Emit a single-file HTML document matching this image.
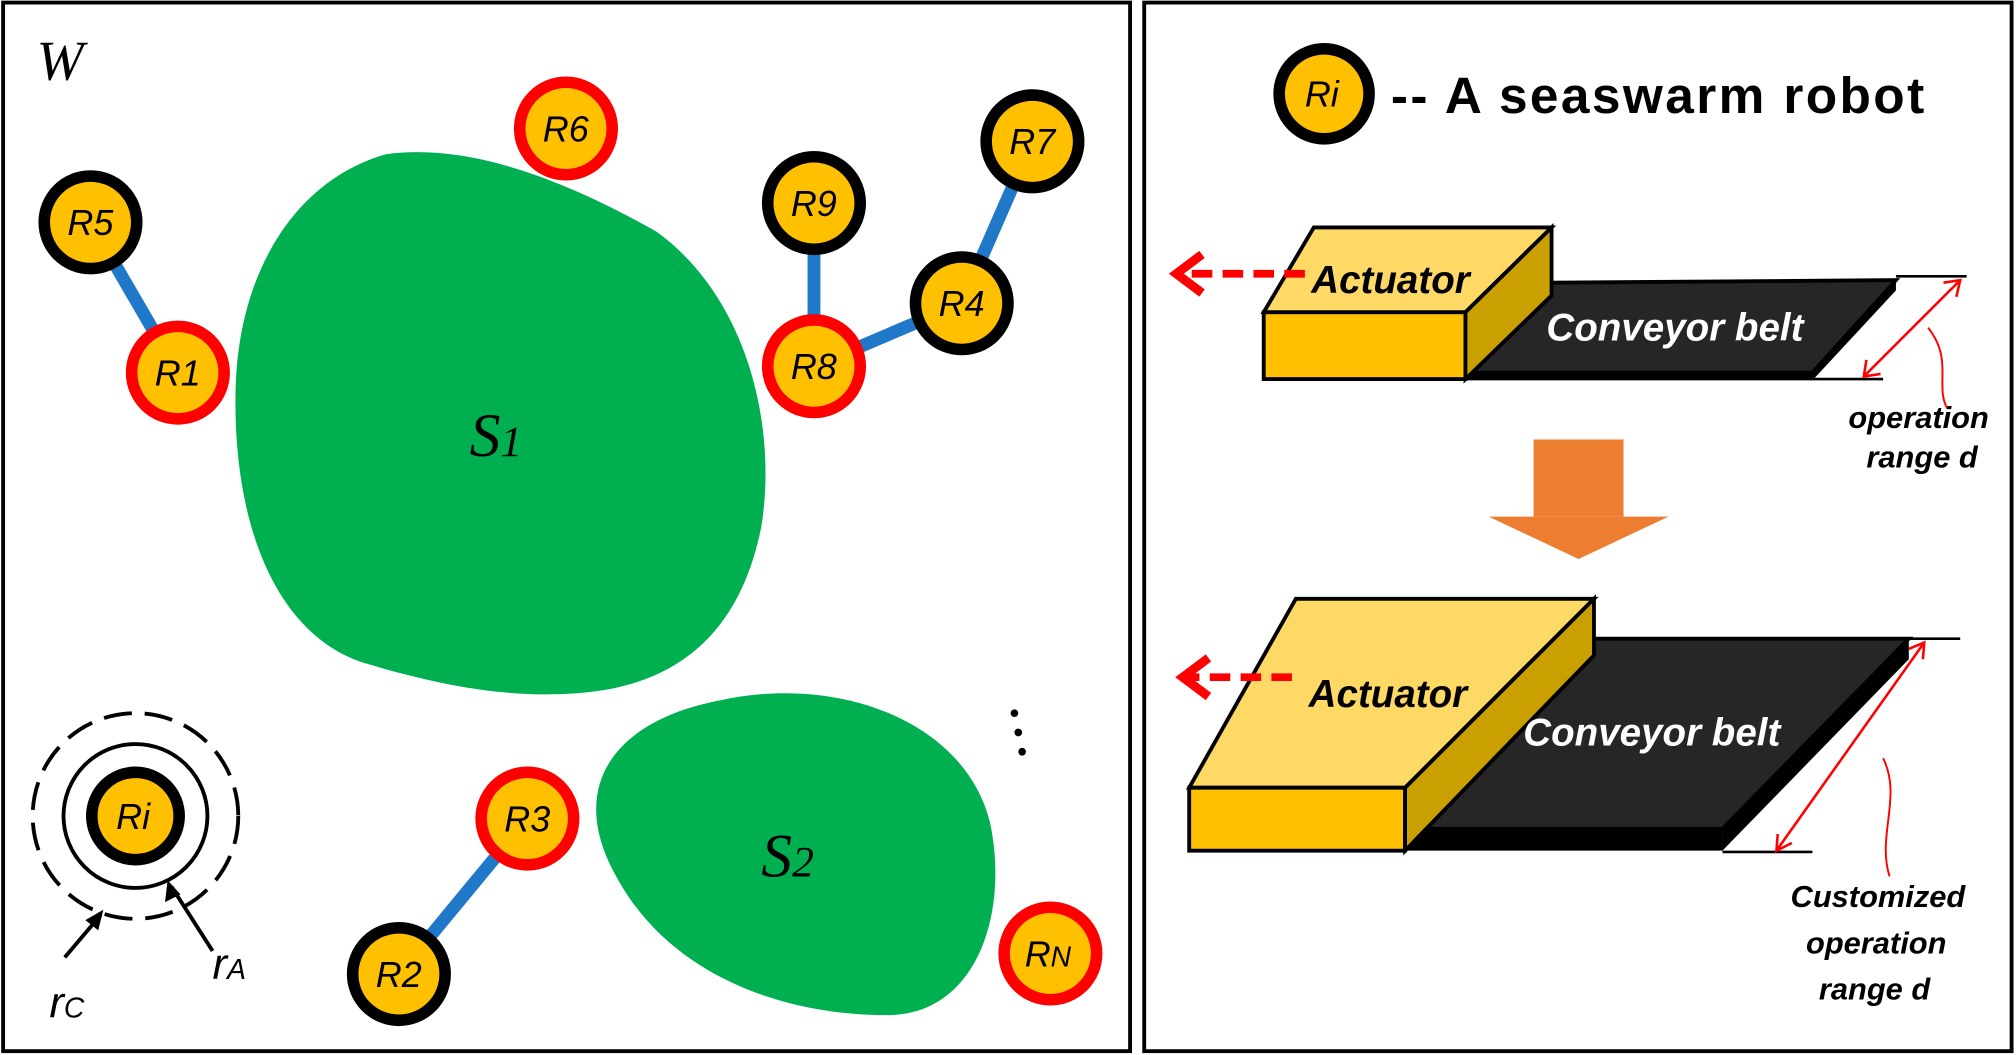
<!DOCTYPE html>
<html><head><meta charset="utf-8"><style>
html,body{margin:0;padding:0;background:#fff;}
svg{display:block;}
.rt{font-family:"Liberation Sans",sans-serif;font-style:italic;font-size:28px;fill:#000;}
.lb{font-family:"Liberation Sans",sans-serif;font-style:italic;font-weight:bold;fill:#000;}
</style></head><body>
<svg width="2016" height="1055" viewBox="0 0 1568 821">
<rect x="2" y="2" width="877" height="816" fill="#fff" stroke="#000" stroke-width="3"/>
<rect x="890" y="2" width="675" height="816" fill="#fff" stroke="#000" stroke-width="3"/>
<text x="28" y="62" font-family="Liberation Serif,serif" font-style="italic" font-size="44">W</text>
<path d="M300,120 C360,112 430,135 510,180 C580,230 605,330 592,410 C578,480 540,525 470,537 C400,548 330,530 280,515 C210,490 180,400 183,300 C186,210 230,140 300,120 Z" fill="#00B050"/>
<text x="365" y="355" font-family="Liberation Serif,serif" font-style="italic" font-size="48">S<tspan font-size="34">1</tspan></text>
<path d="M560,545 C650,525 750,560 770,640 C785,710 760,790 690,790 C610,790 520,760 478,680 C440,610 480,560 560,545 Z" fill="#00B050"/>
<text x="592" y="682" font-family="Liberation Serif,serif" font-style="italic" font-size="48">S<tspan font-size="34">2</tspan></text>
<g stroke="#1F78C8" stroke-width="10">
<line x1="70" y1="173" x2="138" y2="290"/><line x1="633" y1="158" x2="633" y2="285"/>
<line x1="633" y1="285" x2="748" y2="236"/><line x1="748" y1="236" x2="803" y2="110"/>
<line x1="410" y1="637" x2="310" y2="758"/></g>
<g>
<g><circle cx="70" cy="173" r="36" fill="#FFC000" stroke="#000" stroke-width="9"/><text class="rt" x="52" y="183">R5</text></g>
<g><circle cx="138" cy="290" r="36" fill="#FFC000" stroke="#f00" stroke-width="9"/><text class="rt" x="120" y="300">R1</text></g>
<g><circle cx="440" cy="100" r="36" fill="#FFC000" stroke="#f00" stroke-width="9"/><text class="rt" x="422" y="110">R6</text></g>
<g><circle cx="633" cy="158" r="36" fill="#FFC000" stroke="#000" stroke-width="9"/><text class="rt" x="615" y="168">R9</text></g>
<g><circle cx="803" cy="110" r="36" fill="#FFC000" stroke="#000" stroke-width="9"/><text class="rt" x="785" y="120">R7</text></g>
<g><circle cx="748" cy="236" r="36" fill="#FFC000" stroke="#000" stroke-width="9"/><text class="rt" x="730" y="246">R4</text></g>
<g><circle cx="633" cy="285" r="36" fill="#FFC000" stroke="#f00" stroke-width="9"/><text class="rt" x="615" y="295">R8</text></g>
<g><circle cx="410" cy="637" r="36" fill="#FFC000" stroke="#f00" stroke-width="9"/><text class="rt" x="392" y="647">R3</text></g>
<g><circle cx="310" cy="758" r="36" fill="#FFC000" stroke="#000" stroke-width="9"/><text class="rt" x="292" y="768">R2</text></g>
<g><circle cx="817" cy="742" r="36" fill="#FFC000" stroke="#f00" stroke-width="9"/><text class="rt" x="797" y="752">R<tspan font-size="22">N</tspan></text></g>
</g>
<g>
<circle cx="105" cy="635" r="80" fill="none" stroke="#000" stroke-width="3" stroke-dasharray="22,10"/>
<circle cx="105" cy="635" r="56" fill="none" stroke="#000" stroke-width="3"/>
<circle cx="105" cy="635" r="34" fill="#FFC000" stroke="#000" stroke-width="9"/><text class="rt" x="90" y="645">Ri</text>
<line x1="50" y1="745" x2="78" y2="712" stroke="#000" stroke-width="3"/><polygon points="80,708 66,716 76,724" fill="#000"/>
<line x1="165" y1="740" x2="133" y2="690" stroke="#000" stroke-width="3"/><polygon points="130,685 128,702 140,696" fill="#000"/>
<text x="38" y="792" font-family="Liberation Sans,sans-serif" font-style="italic" font-size="34">r<tspan font-size="22">C</tspan></text>
<text x="165" y="762" font-family="Liberation Sans,sans-serif" font-style="italic" font-size="34">r<tspan font-size="22">A</tspan></text>
</g>
<g fill="#000"><circle cx="789" cy="555" r="3"/><circle cx="792" cy="570" r="3"/><circle cx="795" cy="585" r="3"/></g>
<g><circle cx="1030" cy="73" r="35" fill="#FFC000" stroke="#000" stroke-width="9"/><text class="rt" x="1015" y="83">Ri</text>
<text x="1082" y="88" font-family="Liberation Sans,sans-serif" font-weight="bold" font-size="40" textLength="415">-- A seaswarm robot</text></g>
<g>
<polygon points="1140,290 1207,220 1475,218 1410,290" fill="#262626" stroke="#000" stroke-width="3"/>
<polygon points="1140,290 1410,290 1410,296 1140,296" fill="#000"/>
<polygon points="1410,290 1475,218 1475,226 1410,296" fill="#000"/>
<polygon points="983,243 1022,177 1207,177 1140,243" fill="#FFD966" stroke="#000" stroke-width="3"/>
<rect x="983" y="243" width="157" height="52" fill="#FFC000" stroke="#000" stroke-width="3"/>
<polygon points="1140,243 1207,177 1207,230 1140,295" fill="#C9A000" stroke="#000" stroke-width="3"/>
<text class="lb" x="1020" y="228" font-size="30">Actuator</text>
<text class="lb" x="1203" y="265" font-size="30" style="fill:#fff">Conveyor belt</text>
<line x1="1015" y1="213" x2="918" y2="213" stroke="#f00" stroke-width="6" stroke-dasharray="16,8"/>
<polyline points="935,198 915,213 935,228" fill="none" stroke="#f00" stroke-width="7"/>
<line x1="1475" y1="215" x2="1530" y2="215" stroke="#000" stroke-width="2"/><line x1="1410" y1="295" x2="1465" y2="295" stroke="#000" stroke-width="2"/>
<line x1="1525" y1="218" x2="1450" y2="293" stroke="#f00" stroke-width="2"/>
<polyline points="1512,220 1525,218 1522,231" fill="none" stroke="#f00" stroke-width="2"/><polyline points="1452,280 1450,293 1463,291" fill="none" stroke="#f00" stroke-width="2"/>
<path d="M1500,255 C1520,280 1505,300 1515,318" fill="none" stroke="#f00" stroke-width="1.5"/>
<text class="lb" x="1438" y="333" font-size="24">operation</text><text class="lb" x="1452" y="364" font-size="24">range d</text>
</g>
<g><rect x="1193" y="342" width="70" height="60" fill="#ED7D31"/><polygon points="1158,402 1298,402 1228,435" fill="#ED7D31"/></g>
<g>
<polygon points="1093,645 1240,497 1485,497 1340,645" fill="#262626" stroke="#000" stroke-width="3"/>
<polygon points="1093,645 1340,645 1340,662 1093,662" fill="#000"/>
<polygon points="1340,645 1485,497 1485,513 1340,662" fill="#000"/>
<polygon points="925,613 1008,466 1240,466 1093,613" fill="#FFD966" stroke="#000" stroke-width="3"/>
<rect x="925" y="613" width="168" height="49" fill="#FFC000" stroke="#000" stroke-width="3"/>
<polygon points="1093,613 1240,466 1240,510 1093,662" fill="#C9A000" stroke="#000" stroke-width="3"/>
<text class="lb" x="1018" y="550" font-size="30">Actuator</text>
<text class="lb" x="1185" y="580" font-size="30" style="fill:#fff">Conveyor belt</text>
<line x1="1005" y1="527" x2="925" y2="527" stroke="#f00" stroke-width="6" stroke-dasharray="16,8"/>
<polyline points="940,512 920,527 940,542" fill="none" stroke="#f00" stroke-width="7"/>
<line x1="1485" y1="497" x2="1525" y2="497" stroke="#000" stroke-width="2"/><line x1="1340" y1="663" x2="1410" y2="663" stroke="#000" stroke-width="2"/>
<line x1="1497" y1="500" x2="1382" y2="662" stroke="#f00" stroke-width="2"/>
<polyline points="1485,505 1497,500 1496,513" fill="none" stroke="#f00" stroke-width="2"/><polyline points="1383,649 1382,662 1394,656" fill="none" stroke="#f00" stroke-width="2"/>
<path d="M1465,590 C1480,620 1460,650 1470,682" fill="none" stroke="#f00" stroke-width="1.5"/>
<text class="lb" x="1393" y="706" font-size="24">Customized</text><text class="lb" x="1405" y="742" font-size="24">operation</text><text class="lb" x="1415" y="778" font-size="24">range d</text>
</g>
</svg>
</body></html>
